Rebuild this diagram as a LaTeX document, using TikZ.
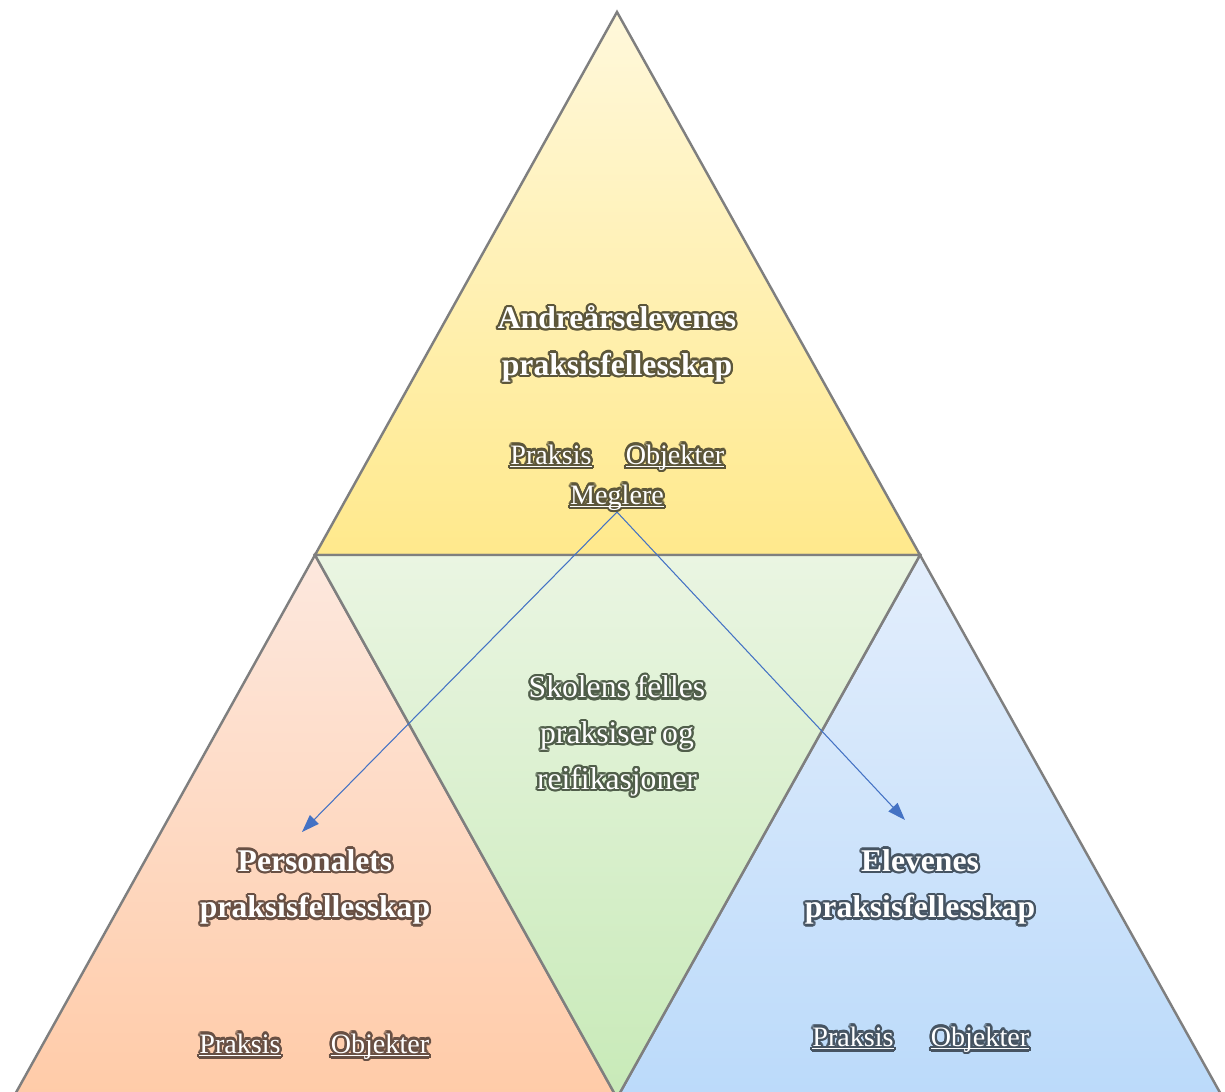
\documentclass[tikz,border=0pt]{standalone}
\usepackage{fontspec}
\setmainfont{Liberation Serif}
\usepackage{contour}
\contourlength{1.3pt}
\usetikzlibrary{arrows.meta}

\definecolor{edgegray}{RGB}{127,127,127}
\definecolor{linkblue}{RGB}{68,114,196}
\definecolor{yeltop}{RGB}{255,248,219}
\definecolor{yelbot}{RGB}{255,233,140}
\definecolor{grntop}{RGB}{234,245,226}
\definecolor{grnbot}{RGB}{200,234,184}
\definecolor{orgtop}{RGB}{253,232,222}
\definecolor{orgbot}{RGB}{255,203,168}
\definecolor{blutop}{RGB}{227,238,252}
\definecolor{blubot}{RGB}{187,218,250}
\definecolor{glowyel}{RGB}{92,86,58}
\definecolor{glowgrn}{RGB}{80,94,74}
\definecolor{gloworg}{RGB}{104,80,68}
\definecolor{glowblu}{RGB}{70,84,98}

\newcommand{\ulin}[1]{\underline{\smash{#1}}}

\tikzset{
  tri/.style={draw=edgegray,line width=1.4pt,line join=miter},
  title/.style={text=white,align=center,font=\fontsize{18}{26.5}\selectfont\bfseries},
  body/.style={text=white,align=center,font=\fontsize{18}{26}\selectfont},
  tag/.style={text=white,inner sep=1pt,font=\fontsize{16}{19}\selectfont},
  link/.style={draw=linkblue,line width=0.6pt,-{Triangle[length=10pt,width=7pt]}}
}

\begin{document}
\begin{tikzpicture}[x=0.02cm,y=-0.02cm]
  \useasboundingbox (0,0) rectangle (1225,1092);
  \clip (0,0) rectangle (1225,1092);
  % corners
  \coordinate (top) at (617,12);
  \coordinate (midl) at (315,555);
  \coordinate (midr) at (920,555);
  \coordinate (botl) at (13,1098);
  \coordinate (botm) at (617,1098);
  \coordinate (botr) at (1223,1098);
  % triangles
  \path[tri,top color=yeltop,bottom color=yelbot](top)--(midl)--(midr)--cycle;
  \path[tri,top color=orgtop,bottom color=orgbot](midl)--(botl)--(botm)--cycle;
  \path[tri,top color=blutop,bottom color=blubot](midr)--(botm)--(botr)--cycle;
  \path[tri,top color=grntop,bottom color=grnbot](midl)--(midr)--(botm)--cycle;
  % texts
  \node[title](andre)at(617,345){\contour{glowyel}{Andreårselevenes}\\\contour{glowyel}{praksisfellesskap}};
  \node[tag](prak1)at(551,467){\contour{glowyel}{\ulin{Praksis}}};
  \node[tag](obj1)at(675,467){\contour{glowyel}{\ulin{Objekter}}};
  \node[tag](megl)at(617,507){\contour{glowyel}{\ulin{Meglere}}};
  \node[body](skole)at(617,737){\contour{glowgrn}{Skolens felles}\\\contour{glowgrn}{praksiser og}\\\contour{glowgrn}{reifikasjoner}};
  \node[title](pers)at(315,888){\contour{gloworg}{Personalets}\\\contour{gloworg}{praksisfellesskap}};
  \node[tag](prak2)at(240,1056){\contour{gloworg}{\ulin{Praksis}}};
  \node[tag](obj2)at(380,1056){\contour{gloworg}{\ulin{Objekter}}};
  \node[title](elev)at(920,888){\contour{glowblu}{Elevenes}\\\contour{glowblu}{praksisfellesskap}};
  \node[tag](prak3)at(853,1049){\contour{glowblu}{\ulin{Praksis}}};
  \node[tag](obj3)at(980,1049){\contour{glowblu}{\ulin{Objekter}}};
  % arrows
  \coordinate (toPers) at (302,832);
  \coordinate (toElev) at (905,820);
  \draw[link](megl.south)--(toPers);
  \draw[link](megl.south)--(toElev);
\end{tikzpicture}
\end{document}
